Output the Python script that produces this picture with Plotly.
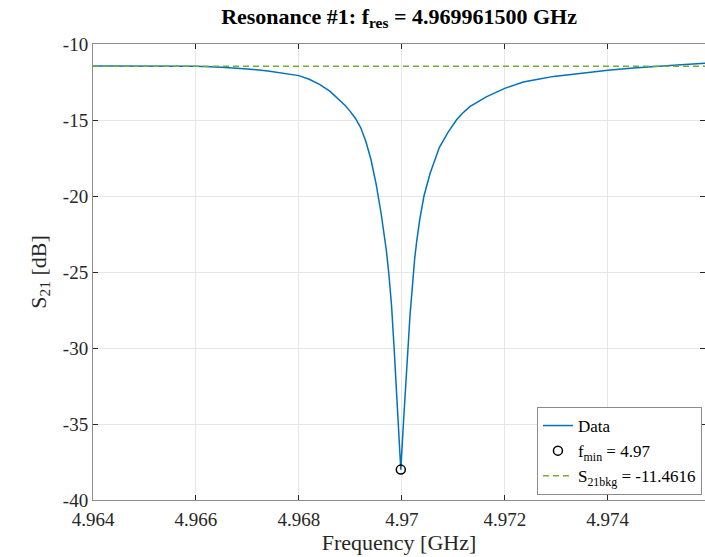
import plotly.graph_objects as go

# Data
freq_ghz = [4.964, 4.9645, 4.965, 4.9655, 4.966, 4.9665, 4.967, 4.9674, 4.9678, 4.968,
            4.9682, 4.9684, 4.9686, 4.9688, 4.9689, 4.969, 4.9691, 4.9692, 4.9693, 4.9694,
            4.9695, 4.9696, 4.9697, 4.96975, 4.9698, 4.96985, 4.9699, 4.96993, 4.96998, 4.97003,
            4.97007, 4.97012, 4.97016, 4.9702, 4.97025, 4.97029, 4.97035, 4.97043, 4.97055, 4.97073,
            4.9709, 4.97106, 4.97118, 4.97132, 4.97165, 4.972, 4.97236, 4.9727, 4.97295, 4.9735,
            4.974, 4.9745, 4.975, 4.9755, 4.97589]
s21_db = [-11.44, -11.45, -11.44, -11.46, -11.47, -11.53, -11.64, -11.78, -11.97, -12.08,
          -12.32, -12.65, -13.1, -13.7, -14.05, -14.45, -14.9, -15.5, -16.4, -17.6,
          -19.2, -21.2, -23.6, -25.2, -27.2, -30.0, -33.0, -35.0, -38.0, -35.0,
          -32.5, -30.0, -27.8, -25.9, -24.1, -22.95, -21.5, -20.0, -18.5, -16.8,
          -15.8, -15.0, -14.55, -14.12, -13.46, -12.92, -12.5, -12.28, -12.13, -11.92,
          -11.72, -11.58, -11.45, -11.35, -11.27]

f_min = [4.96998]
s21_min = [-38.0]
s21_bkg = -11.4616

x_range = [4.964, 4.97589]
y_range = [-40, -10]
x_ticks = [4.964, 4.966, 4.968, 4.97, 4.972, 4.974]
x_tick_labels = ["4.964", "4.966", "4.968", "4.97", "4.972", "4.974"]
y_ticks = [-40, -35, -30, -25, -20, -15, -10]
y_tick_labels = ["-40", "-35", "-30", "-25", "-20", "-15", "-10"]

FONT = "Liberation Serif, Times New Roman, serif"
TXT = "#262626"

fig = go.Figure()
fig.add_trace(go.Scatter(x=freq_ghz, y=s21_db, mode="lines", name="Data",
                         line=dict(color="#0072BD", width=1.5)))
fig.add_trace(go.Scatter(x=f_min, y=s21_min, mode="markers",
                         name="f<sub>min</sub> = 4.97",
                         marker=dict(symbol="circle-open", size=9, color="#000000",
                                     line=dict(width=1.5, color="#000000"))))
fig.add_trace(go.Scatter(x=x_range, y=[s21_bkg, s21_bkg], mode="lines",
                         name="S<sub>21bkg</sub> = -11.4616",
                         line=dict(color="#77AC30", width=1.5, dash="6px,4px")))

axis_common = dict(showline=True, linecolor="#8c8c8c", linewidth=1, mirror="ticks",
                   ticks="inside", ticklen=5, tickcolor="#262626", showgrid=True,
                   gridcolor="#e6e6e6", gridwidth=1, zeroline=False,
                   tickfont=dict(family=FONT, size=19, color=TXT))

fig.update_layout(
    width=705, height=557,
    margin=dict(l=93, r=0, t=44, b=57),
    paper_bgcolor="white", plot_bgcolor="white",
    title=dict(text="<b>Resonance #1: f<sub>res</sub> = 4.969961500 GHz</b>",
               x=0.566, xanchor="center", y=0.985, yanchor="top",
               font=dict(family=FONT, size=22, color="#000000")),
    xaxis=dict(range=x_range, tickvals=x_ticks, ticktext=x_tick_labels,
               ticklabelstandoff=2,
               title=dict(text="Frequency [GHz]", standoff=4,
                          font=dict(family=FONT, size=22, color=TXT)),
               **axis_common),
    yaxis=dict(range=y_range, tickvals=y_ticks, ticktext=y_tick_labels,
               title=dict(text="S<sub>21</sub> [dB]", standoff=10,
                          font=dict(family=FONT, size=22, color=TXT)),
               **axis_common),
    legend=dict(x=0.995, y=0.011, xanchor="right", yanchor="bottom",
                bgcolor="white", bordercolor="#8c8c8c", borderwidth=1,
                font=dict(family=FONT, size=17, color="#000000"),
                itemwidth=30, tracegroupgap=0),
    showlegend=True,
)

fig.write_html("out.html")
